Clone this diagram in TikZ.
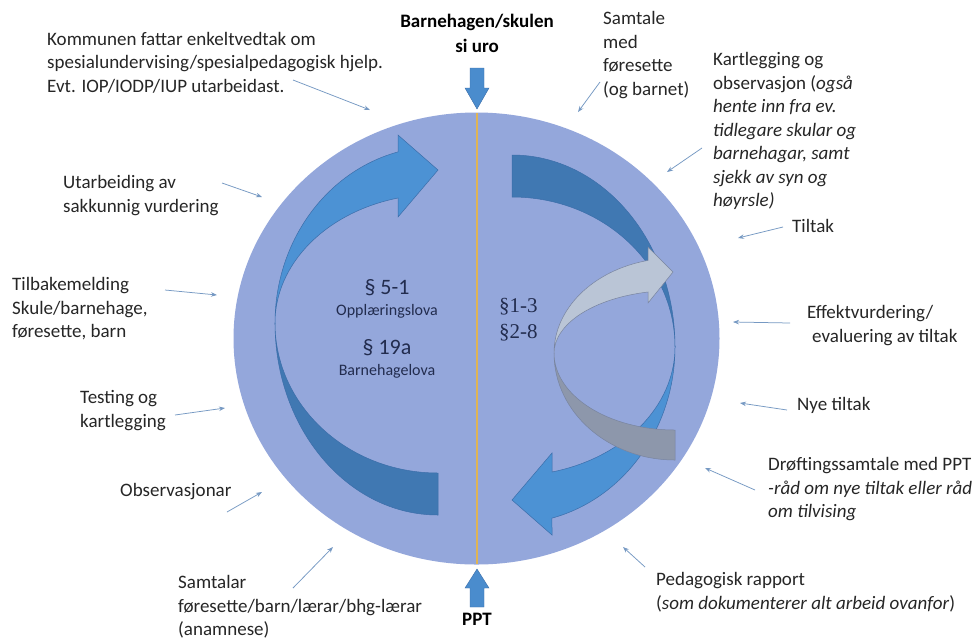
\documentclass[tikz,border=0pt]{standalone}
\usepackage{fontspec}
\setmainfont{Carlito}
\newfontfamily\serifnum{Liberation Serif}
\usetikzlibrary{arrows.meta,shapes.geometric}

\definecolor{circ}{RGB}{148,167,219}
\definecolor{bfront}{RGB}{76,146,212}
\definecolor{bback}{RGB}{64,120,178}
\definecolor{bedge}{RGB}{60,110,170}
\definecolor{gfront}{RGB}{186,197,214}
\definecolor{gback}{RGB}{141,151,171}
\definecolor{gedge}{RGB}{120,132,160}
\definecolor{midline}{RGB}{224,180,84}
\definecolor{txt}{RGB}{38,38,38}
\definecolor{navy}{RGB}{34,44,78}
\definecolor{ptrc}{RGB}{118,153,195}
\definecolor{fatarrow}{RGB}{74,140,205}

\newcommand{\mycurvedarrow}{%
  \path[bluebackpart] (438,515) arc[start angle=90, end angle=180, x radius=163, y radius=192]
        arc[start angle=180, end angle=90, x radius=163, y radius=150] -- cycle;
  \path[bluefrontpart] (275,323) arc[start angle=180, end angle=255.8, x radius=163, y radius=176.5]
        -- (398,135) -- (438,170) -- (398,217) -- (398,198)
        arc[start angle=255.8, end angle=180, x radius=163, y radius=129] -- cycle;
}

\begin{document}
\begin{tikzpicture}[x=1pt,y=-1pt,
  lbl/.style={anchor=north west, inner sep=0pt, align=left, text=txt,
              font=\fontsize{19}{23.5}\selectfont},
  ptr/.style={draw=ptrc, line width=0.75pt, -{Stealth[length=6pt,width=4.5pt]}},
  bluebackpart/.style={fill=bback, draw=bedge, line width=0.5pt},
  bluefrontpart/.style={fill=bfront, draw=bedge, line width=0.5pt},
  graybackpart/.style={fill=gback, draw=gedge, line width=0.5pt},
  grayfrontpart/.style={fill=gfront, draw=gedge, line width=0.5pt},
  fatarr/.style={fill=fatarrow, draw=bedge, line width=0.4pt},
  bigsec/.style={inner sep=0pt, text=navy, font=\fontsize{22}{24}\selectfont},
  smallsec/.style={inner sep=0pt, text=navy, font=\fontsize{16}{18}\selectfont},
  serifsec/.style={inner sep=0pt, anchor=west, text=navy, font=\serifnum\fontsize{21}{24}\selectfont},
  headlbl/.style={inner sep=0pt, align=center, text=black, font=\bfseries\fontsize{19}{25}\selectfont},
]
\useasboundingbox[fill=white] (0,0) rectangle (979,641);

% main circle
\node[ellipse, fill=circ, minimum width=486pt, minimum height=452pt, inner sep=0pt] (circ) at (476.5,338.5) {};

% middle line
\draw[midline, line width=1.8pt] (477,113) -- (477,564);

% left curved arrow and rotated copy on the right
\mycurvedarrow
\begin{scope}[rotate around={180:(475,335)}]
  \mycurvedarrow
\end{scope}

% grey curved arrow
\path[graybackpart] (675,460) arc[start angle=90, end angle=180, x radius=121, y radius=107]
      arc[start angle=180, end angle=90, x radius=121, y radius=77] -- cycle;
\path[grayfrontpart] (554,353) arc[start angle=180, end angle=257.1, x radius=121, y radius=95]
      -- (648,247) -- (673,272) -- (648,303) -- (648,292)
      arc[start angle=257.1, end angle=180, x radius=121, y radius=63] -- cycle;

% top and bottom fat arrows
\path[fatarr] (470,68) -- (484,68) -- (484,88) -- (489,88) -- (477,109) -- (465,88) -- (470,88) -- cycle;
\path[fatarr] (470,607) -- (484,607) -- (484,588) -- (489,588) -- (477,569) -- (465,588) -- (470,588) -- cycle;

\node[headlbl, anchor=north] (top) at (477,14) {Barnehagen/skulen\\si uro};
\node[headlbl, anchor=north] (ppt) at (477,613) {PPT};

% texts inside circle
\node[bigsec] (s51) at (387,288) {§ 5-1};
\node[smallsec] (opl) at (387,311) {Opplæringslova};
\node[bigsec] (s19) at (387,348) {§ 19a};
\node[smallsec] (bhl) at (387,371) {Barnehagelova};
\node[serifsec] (s13) at (499,307) {§1-3};
\node[serifsec] (s28) at (499,333) {§2-8};

% labels left
\node[lbl] (l1) at (47,32) {Kommunen fattar enkeltvedtak om\\spesialundervising/spesialpedagogisk hjelp.\\Evt. IOP/IODP/IUP utarbeidast.};
\node[lbl] (l2) at (63,175.5) {Utarbeiding av\\sakkunnig vurdering};
\node[lbl] (l3) at (12,277.5) {Tilbakemelding\\Skule/barnehage,\\føresette, barn};
\node[lbl] (l4) at (80,390.5) {Testing og\\kartlegging};
\node[lbl] (l5) at (120,483.5) {Observasjonar};
\node[lbl] (l6) at (178,575.5) {Samtalar\\føresette/barn/lærar/bhg-lærar\\(anamnese)};

% labels right
\node[lbl] (r1) at (603,11.5) {Samtale\\med\\føresette\\(og barnet)};
\node[lbl] (r2) at (713,52.5) {Kartlegging og\\observasjon (\textit{også}\\\textit{hente inn fra ev.}\\\textit{tidlegare skular og}\\\textit{barnehagar, samt}\\\textit{sjekk av syn og}\\\textit{høyrsle)}};
\node[lbl] (r3) at (792,219.5) {Tiltak};
\node[lbl] (r4) at (807,305.5) {Effektvurdering/\\\hspace*{5pt}evaluering av tiltak};
\node[lbl] (r5) at (797,397.5) {Nye tiltak};
\node[lbl] (r6) at (768,457.5) {Drøftingssamtale med PPT\\\textit{-råd om nye tiltak eller råd}\\\textit{om tilvising}};
\node[lbl] (r7) at (656,572.5) {Pedagogisk rapport\\(\textit{som dokumenterer alt arbeid ovanfor})};

% pointer coordinates
\coordinate (a1s) at (293,80);  \coordinate (a1e) at (370,110);
\coordinate (a2s) at (222,183); \coordinate (a2e) at (262,197);
\coordinate (a3s) at (165,290); \coordinate (a3e) at (217,295);
\coordinate (a4s) at (175,415); \coordinate (a4e) at (225,408);
\coordinate (a5s) at (227,512); \coordinate (a5e) at (262,492);
\coordinate (a6s) at (293,588); \coordinate (a6e) at (333,547);
\coordinate (b1s) at (600,82);  \coordinate (b1e) at (578,112);
\coordinate (b2s) at (702,148); \coordinate (b2e) at (667,172);
\coordinate (b3s) at (783,227); \coordinate (b3e) at (738,238);
\coordinate (b4s) at (790,323); \coordinate (b4e) at (733,322);
\coordinate (b5s) at (787,410); \coordinate (b5e) at (740,403);
\coordinate (b6s) at (755,490); \coordinate (b6e) at (705,468);
\coordinate (b7s) at (645,567); \coordinate (b7e) at (623,547);

\foreach \p in {a1,a2,a3,a4,a5,a6,b1,b2,b3,b4,b5,b6,b7}
  \draw[ptr] (\p s) -- (\p e);
\end{tikzpicture}
\end{document}
